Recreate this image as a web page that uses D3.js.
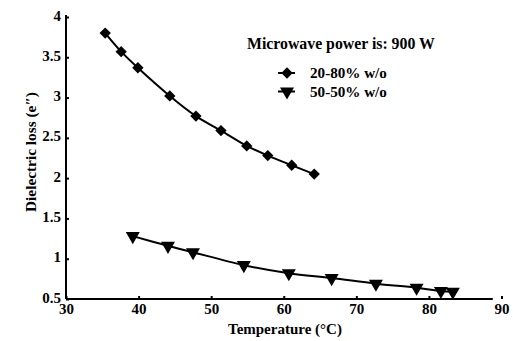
<!DOCTYPE html>
<html>
<head>
<meta charset="utf-8">
<script src="https://cdn.jsdelivr.net/npm/d3@7"></script>
<style>
  body { margin: 0; background: #fff; }
</style>
</head>
<body>
<svg id="chart" width="513" height="341"></svg>
<script>
// Datos
const tempA = [35.4, 37.6, 39.9, 44.3, 47.9, 51.35, 54.9, 57.8, 61.1, 64.2];
const lossA = [3.80, 3.57, 3.37, 3.02, 2.77, 2.59, 2.40, 2.28, 2.16, 2.05];
const tempB = [39.2, 44.05, 47.5, 54.5, 60.7, 66.6, 72.7, 78.3, 81.65, 83.3];
const lossB = [1.28, 1.16, 1.08, 0.92, 0.82, 0.76, 0.69, 0.64, 0.60, 0.59];
const xTicks = [30, 40, 50, 60, 70, 80, 90];
const yTicks = [0.5, 1, 1.5, 2, 2.5, 3, 3.5, 4];
const seriesNames = ["20-80% w/o", "50-50% w/o"];
const legendTitle = "Microwave power is: 900 W";

const FONT = '"Liberation Serif", "Times New Roman", serif';

const svg = d3.select("#chart");

const x = d3.scaleLinear().domain([30, 90]).range([66, 501.5]);
const y = d3.scaleLinear().domain([0.5, 4]).range([299, 17]);

// Estilo de texto común
function serif(sel) {
  return sel.style("font-family", FONT).style("font-weight", "bold").attr("fill", "#000");
}

// Ajusta el tamaño de letra para que el texto ocupe el ancho deseado
function fitText(sel, targetWidth) {
  serif(sel).style("font-size", "15px");
  const w = sel.node().getComputedTextLength();
  sel.style("font-size", (15 * targetWidth / w) + "px");
}

// Ejes
const xAxis = svg.append("g")
  .attr("transform", `translate(0,${y(0.5)})`)
  .call(d3.axisBottom(x).tickValues(xTicks).tickSize(-3).tickPadding(4).tickFormat(d3.format("d")));
const yAxis = svg.append("g")
  .attr("transform", `translate(${x(30)},0)`)
  .call(d3.axisLeft(y).tickValues(yTicks).tickSize(-3).tickPadding(5).tickFormat(d => d));

// la línea del eje x termina un poco antes del 90
xAxis.select(".domain").attr("d", `M${x(30)},0H${x(88.8)}`);
yAxis.select(".domain").attr("d", `M0,${y(0.5)}V${y(4) - 2}`);

[xAxis, yAxis].forEach(g => {
  g.attr("font-family", null);
  g.select(".domain").attr("stroke", "#000").attr("stroke-width", 2);
  g.selectAll(".tick line").attr("stroke", "#000").attr("stroke-width", 2);
  serif(g.selectAll(".tick text")).style("font-size", "15px");
});
yAxis.selectAll(".tick text").attr("dy", "0.2em");

// Títulos de ejes
const xTitle = svg.append("text")
  .attr("x", 228)
  .attr("y", 334)
  .text("Temperature (°C)");
fitText(xTitle, 114);

const yTitle = svg.append("text")
  .attr("transform", `translate(36,212) rotate(-90)`)
  .text("Dielectric loss (e\u2033)");
fitText(yTitle, 120);

// Series
const line = d3.line().x(d => x(d[0])).y(d => y(d[1])).curve(d3.curveCatmullRom.alpha(0.5));
const dataA = tempA.map((t, i) => [t, lossA[i]]);
const dataB = tempB.map((t, i) => [t, lossB[i]]);

const diamond = d3.symbol().type(d3.symbolSquare).size(64)();
const triangle = d3.symbol().type(d3.symbolTriangle).size(85)();

function drawSeries(data, path, rot) {
  svg.append("path")
    .datum(data)
    .attr("d", line)
    .attr("fill", "none")
    .attr("stroke", "#000")
    .attr("stroke-width", 2);
  svg.selectAll(null)
    .data(data)
    .enter()
    .append("path")
    .attr("d", path)
    .attr("transform", d => `translate(${x(d[0])},${y(d[1])}) rotate(${rot})`)
    .attr("fill", "#000");
}
drawSeries(dataA, diamond, 45);
drawSeries(dataB, triangle, 180);

// Leyenda
const title = svg.append("text")
  .attr("x", 247)
  .attr("y", 49)
  .text(legendTitle);
fitText(title, 188);

const legend = svg.selectAll(".legend")
  .data(seriesNames)
  .enter()
  .append("g")
  .attr("class", "legend")
  .attr("transform", (d, i) => `translate(0,${73 + i * 18.5})`);

legend.append("line")
  .attr("x1", 278).attr("x2", 295)
  .attr("stroke", "#000").attr("stroke-width", 2);
legend.append("path")
  .attr("d", (d, i) => i === 0 ? diamond : triangle)
  .attr("transform", (d, i) => `translate(287,0) rotate(${i === 0 ? 45 : 180})`)
  .attr("fill", "#000");
legend.append("text")
  .attr("x", 310)
  .attr("y", 5)
  .text(d => d)
  .each(function() { fitText(d3.select(this), 77); });
</script>
</body>
</html>
